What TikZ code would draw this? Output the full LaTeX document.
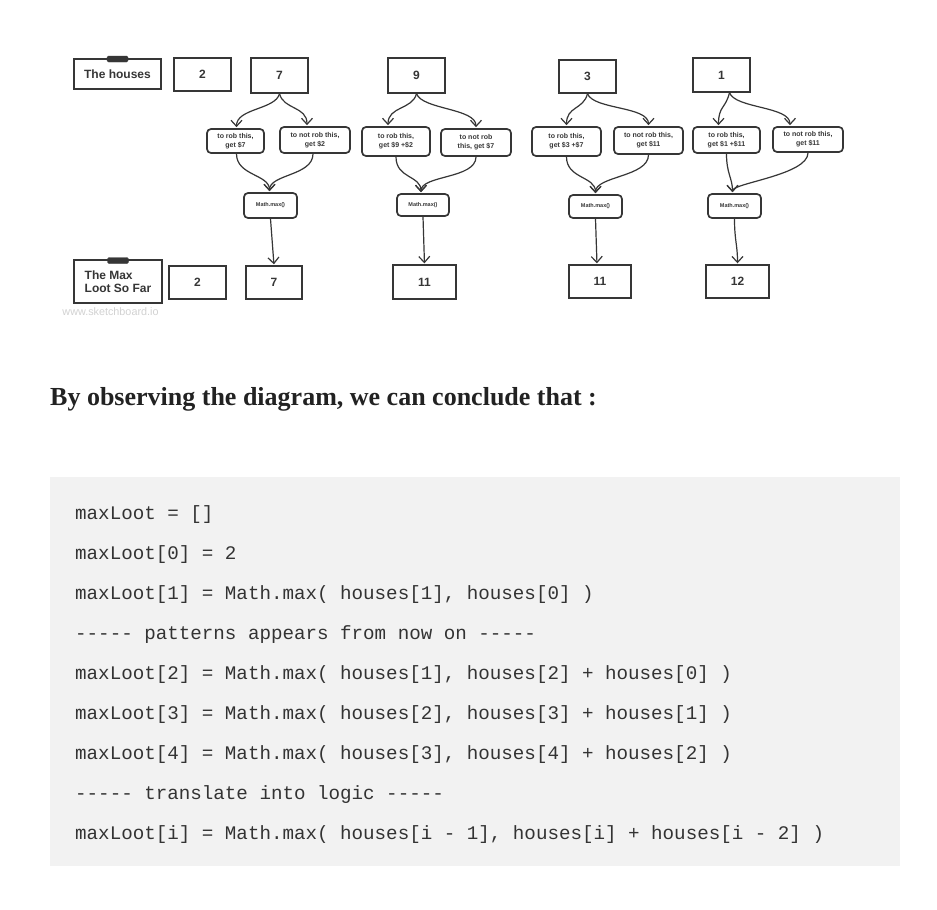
\documentclass[tikz,border=0pt]{standalone}
\usepackage{fontspec}
\setmainfont{Liberation Sans}
\newfontfamily\headfont{Liberation Serif}
\setmonofont{Liberation Mono}
\usetikzlibrary{arrows.meta}
\definecolor{ink}{HTML}{363636}
\definecolor{codebg}{HTML}{F2F2F2}
\definecolor{codetext}{HTML}{333333}
\definecolor{headtext}{HTML}{222222}
\definecolor{wmark}{HTML}{D2D2D2}
\tikzset{
  sk/.style={draw=ink, line width=1.4pt},
  hbox/.style={sk, rectangle, inner sep=0pt, font=\fontsize{12}{13}\selectfont\bfseries, text=ink},
  opt/.style={draw=ink, line width=1.7pt, rounded corners=4pt, inner sep=0pt, align=center,
              font=\fontsize{7}{9}\selectfont\bfseries, text=ink},
  mx/.style={opt, font=\fontsize{5.5}{6}\selectfont\bfseries},
  conn/.style={draw=ink, line width=1.2pt, -{Straight Barb[length=6pt,width=11pt]}, shorten >=1pt},
  tagmark/.style={fill=ink, draw=ink, rounded corners=1.5pt, inner sep=0pt, minimum width=21pt, minimum height=6pt},
  codeline/.style={anchor=base west, inner sep=0pt, text=codetext, font=\ttfamily\fontsize{19.2}{20}\selectfont}
}
\begin{document}
\begin{tikzpicture}[x=1pt,y=-1pt]
\useasboundingbox[fill=white] (0,0) rectangle (937,910);

% ---- top row: houses
\node[hbox, minimum width=87pt, minimum height=30pt] (lh) at (117.5,74) {The houses};
\node[tagmark] (tg1) at (117.5,59) {};
\node[hbox, minimum width=57pt, minimum height=33pt] (h0) at (202.5,74.5) {2};
\node[hbox, minimum width=57pt, minimum height=35pt] (h1) at (279.5,75.5) {7};
\node[hbox, minimum width=57pt, minimum height=35pt] (h2) at (416.5,75.5) {9};
\node[hbox, minimum width=57pt, minimum height=33pt] (h3) at (587.5,76.5) {3};
\node[hbox, minimum width=57pt, minimum height=34pt] (h4) at (721.5,75) {1};

% ---- options
\node[opt, minimum width=57pt, minimum height=24pt] (a1) at (235.5,141) {to rob this,\\get \$7};
\node[opt, minimum width=70pt, minimum height=26pt] (b1) at (315,140) {to not rob this,\\get \$2};
\node[opt, minimum width=68pt, minimum height=29pt] (a2) at (396,141.5) {to rob this,\\get \$9 +\$2};
\node[opt, minimum width=70pt, minimum height=27pt] (b2) at (476,142.5) {to not rob\\this, get \$7};
\node[opt, minimum width=69pt, minimum height=29pt] (a3) at (566.5,141.5) {to rob this,\\get \$3 +\$7};
\node[opt, minimum width=69pt, minimum height=27pt] (b3) at (648.5,140.5) {to not rob this,\\get \$11};
\node[opt, minimum width=67pt, minimum height=26pt] (a4) at (726.5,140) {to rob this,\\get \$1 +\$11};
\node[opt, minimum width=70pt, minimum height=25pt] (b4) at (808,139.5) {to not rob this,\\get \$11};

% ---- Math.max
\node[mx, minimum width=53pt, minimum height=25pt] (m1) at (270.5,205.5) {Math.max()};
\node[mx, minimum width=52pt, minimum height=22pt] (m2) at (423,205) {Math.max()};
\node[mx, minimum width=53pt, minimum height=23pt] (m3) at (595.5,206.5) {Math.max()};
\node[mx, minimum width=53pt, minimum height=24pt] (m4) at (734.5,206) {Math.max()};

% ---- bottom row
\node[hbox, minimum width=88pt, minimum height=43pt, align=left, font=\fontsize{12}{13}\selectfont\bfseries] (lm) at (118,281.5) {The Max\\Loot So Far};
\node[tagmark] (tg2) at (118,260.5) {};
\node[hbox, minimum width=57pt, minimum height=33pt] (r0) at (197.5,282.5) {2};
\node[hbox, minimum width=56pt, minimum height=33pt] (r1) at (274,282.5) {7};
\node[hbox, minimum width=63pt, minimum height=34pt] (r2) at (424.5,282) {11};
\node[hbox, minimum width=62pt, minimum height=33pt] (r3) at (600,281.5) {11};
\node[hbox, minimum width=63pt, minimum height=33pt] (r4) at (737.5,281.5) {12};
\node[text=wmark, font=\fontsize{10.8}{12}\selectfont, inner sep=0pt] (wm) at (110.5,312) {www.sketchboard.io};

% ---- connectors: house -> options
\draw[conn] (h1.south) .. controls +(-4,16) and +(0,-20) .. ([xshift=1pt]a1.north);
\draw[conn] (h1.south) .. controls +(4,16) and +(0,-20) .. ([xshift=-8pt]b1.north);
\draw[conn] (h2.south) .. controls +(-4,16) and +(0,-20) .. ([xshift=-8pt]a2.north);
\draw[conn] (h2.south) .. controls +(6,16) and +(0,-20) .. (b2.north);
\draw[conn] (h3.south) .. controls +(-4,16) and +(0,-20) .. (a3.north);
\draw[conn] (h3.south) .. controls +(6,16) and +(0,-20) .. (b3.north);
\draw[conn] ([xshift=8pt]h4.south) .. controls +(-4,16) and +(0,-20) .. ([xshift=-8pt]a4.north);
\draw[conn] ([xshift=8pt]h4.south) .. controls +(6,16) and +(0,-20) .. ([xshift=-18pt]b4.north);

% ---- options -> Math.max
\draw[conn] ([xshift=1pt]a1.south) .. controls +(0,22) and +(0,-18) .. ([xshift=-1pt]m1.north);
\draw[conn] ([xshift=-2pt]b1.south) .. controls +(0,22) and +(0,-18) .. ([xshift=-1pt]m1.north);
\draw[conn] (a2.south) .. controls +(0,22) and +(0,-18) .. ([xshift=-2pt]m2.north);
\draw[conn] (b2.south) .. controls +(0,22) and +(0,-18) .. ([xshift=-2pt]m2.north);
\draw[conn] (a3.south) .. controls +(0,22) and +(0,-18) .. (m3.north);
\draw[conn] (b3.south) .. controls +(0,22) and +(0,-18) .. (m3.north);
\draw[conn] (a4.south) .. controls +(0,20) and +(0,-15) .. ([xshift=-2pt]m4.north);
\draw[conn] (b4.south) .. controls +(0,22) and +(0,-10) .. ([xshift=-2pt]m4.north);

% ---- Math.max -> results
\draw[conn] (m1.south) -- (r1.north);
\draw[conn] (m2.south) -- (r2.north);
\draw[conn] (m3.south) -- ([xshift=-3pt]r3.north);
\draw[conn] (m4.south) .. controls +(0,22) and +(0,-20) .. (r4.north);

% ---- heading
\node[anchor=base west, inner sep=0pt, text=headtext, font=\headfont\bfseries\fontsize{26}{30}\selectfont] (head) at (50,405) {By observing the diagram, we can conclude that :};

% ---- code block
\node[fill=codebg, inner sep=0pt, minimum width=850pt, minimum height=389pt] (code) at (475,671.5) {};
\node[codeline] (c1) at (75,519) {maxLoot = []};
\node[codeline] (c2) at (75,559) {maxLoot[0] = 2};
\node[codeline] (c3) at (75,599) {maxLoot[1] = Math.max( houses[1], houses[0] )};
\node[codeline] (c4) at (75,639) {----- patterns appears from now on -----};
\node[codeline] (c5) at (75,679) {maxLoot[2] = Math.max( houses[1], houses[2] + houses[0] )};
\node[codeline] (c6) at (75,719) {maxLoot[3] = Math.max( houses[2], houses[3] + houses[1] )};
\node[codeline] (c7) at (75,759) {maxLoot[4] = Math.max( houses[3], houses[4] + houses[2] )};
\node[codeline] (c8) at (75,799) {----- translate into logic -----};
\node[codeline] (c9) at (75,839) {maxLoot[i] = Math.max( houses[i - 1], houses[i] + houses[i - 2] )};
\end{tikzpicture}
\end{document}
